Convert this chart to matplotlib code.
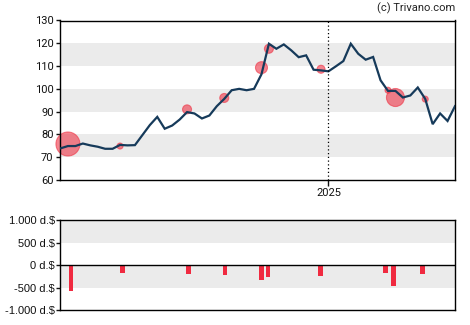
import matplotlib
matplotlib.use("Agg")
import matplotlib.pyplot as plt
import numpy as np
import pandas as pd

# ---- data ----
dates = pd.date_range("2024-04-24", periods=54, freq="7D")
price = [73.9, 74.9, 74.9, 76.0, 75.2, 74.6, 73.7, 73.7, 75.4, 75.2, 75.3, 79.7,
         84.1, 87.7, 82.5, 83.9, 86.5, 89.8, 89.2, 87.0, 88.3, 92.4, 95.6, 99.4,
         100.0, 99.4, 100.0, 106.4, 119.8, 117.6, 119.5, 116.9, 113.9, 114.7, 108.4, 108.1,
         107.7, 109.9, 112.2, 119.8, 115.4, 112.8, 114.0, 103.75, 99.1, 99.1, 96.2, 97.1,
         100.6, 95.6, 84.5, 89.2, 85.9, 92.4]

trade_idx = [1, 8, 17, 22, 27, 28, 35, 44, 45, 49]
trade_price = [75.8, 74.9, 91.0, 96.0, 109.3, 117.6, 108.6, 99.4, 96.2, 95.5]
trade_radius = [12, 3, 4.5, 4.5, 6, 4.5, 4, 3, 9, 3]

bar_pos = [1.4, 8.3, 17.2, 22.1, 27.0, 27.9, 34.9, 43.7, 44.7, 48.6]
bar_vals = [-587, -164, -193, -216, -327, -260, -238, -164, -460, -193]

yticks_top = [60, 70, 80, 90, 100, 110, 120, 130]
yticks_bot = [-1000, -500, 0, 500, 1000]
ytick_bot_labels = ["-1.000 d.$", "-500 d.$", "0 d.$", "500 d.$", "1.000 d.$"]

W, H = 470, 325
fig = plt.figure(figsize=(W / 100, H / 100), dpi=100)
fig.patch.set_facecolor("white")

def rect(l, t, r, b):
    return [l / W, 1 - b / H, (r - l) / W, (b - t) / H]

band = "#ebebeb"
line_col = "#163a5a"
red = "#ee3344"
tickfont = "Roboto"

# ---- top axis ----
ax = fig.add_axes(rect(60.5, 20.5, 455, 180))
x = np.arange(len(price))
ax.set_xlim(0, len(price) - 1)
ax.set_ylim(60, 130)
for lo in (70, 90, 110):
    ax.axhspan(lo, lo + 10, color=band, zorder=0, lw=0)
ax.plot(x, price, color=line_col, lw=1.6, zorder=3, solid_joinstyle="miter")
sizes = [(r * 72 / 100 * 2) ** 2 for r in trade_radius]
ax.scatter(trade_idx, trade_price, s=sizes, color=red, alpha=0.6, lw=0.8,
           edgecolors=red, zorder=2, clip_on=False)
pos2025 = (pd.Timestamp("2025-01-01") - dates[0]) / pd.Timedelta(days=7)
ax.axvline(pos2025, color="black", lw=0.9, ls=(0, (1, 2)), zorder=4)
ax.set_xticks([pos2025])
ax.set_xticklabels(["2025"])
ax.set_yticks(yticks_top)
ax.tick_params(axis="y", length=3, width=1, labelsize=8, pad=2, colors="#111111")
ax.tick_params(axis="x", length=4, width=1, labelsize=8, pad=2, colors="#111111")
for lab in ax.get_xticklabels() + ax.get_yticklabels():
    lab.set_fontfamily(tickfont)
for s in ax.spines.values():
    s.set_linewidth(1.0)
    s.set_color("black")
fig.text(455 / W, 1 - 8 / H, "(c) Trivano.com", ha="right", va="center",
         fontsize=8, fontfamily=tickfont, color="#222222")

# ---- bottom axis ----
bx = fig.add_axes(rect(60.5, 220.3, 455, 310))
bx.set_xlim(0, len(price) - 1)
bx.set_ylim(-1000, 1000)
bx.axhspan(500, 1000, color=band, lw=0, zorder=0)
bx.axhspan(-500, 0, color=band, lw=0, zorder=0)
bx.bar(bar_pos, bar_vals, width=0.62, color="#f02a40", zorder=2)
bx.axhline(0, color="black", lw=1.0, zorder=3)
bx.set_xticks([])
bx.set_yticks(yticks_bot)
bx.set_yticklabels(ytick_bot_labels)
bx.tick_params(axis="y", length=3, width=1, labelsize=8, pad=1, colors="#111111")
for lab in bx.get_yticklabels():
    lab.set_fontfamily("Liberation Sans")
for s in bx.spines.values():
    s.set_linewidth(1.0)
    s.set_color("black")

fig.savefig("out.png", dpi=100)
